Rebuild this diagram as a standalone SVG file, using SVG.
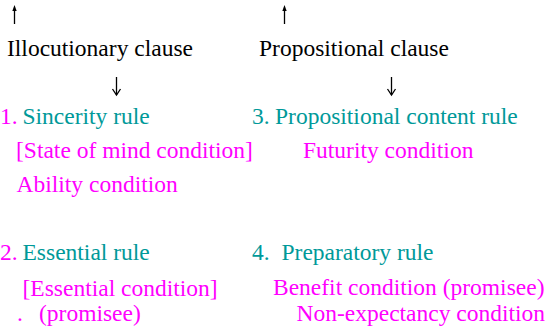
<svg xmlns="http://www.w3.org/2000/svg" width="551" height="331" viewBox="0 0 551 331">
<style>
.tx{font-family:"Liberation Serif",serif;font-size:23.5px}
.k{fill:#000}
.t{fill:#009999}
.m{fill:#FF00FF}
.ln{stroke:#000;stroke-width:1.3;fill:none}
.hd{fill:#000}
</style>
<rect width="551" height="331" fill="#fff"/>
<g id="connectors">
<line class="ln" x1="14.5" y1="24" x2="14.5" y2="9"/>
<polygon class="hd" points="14.5,5 12.3,11 16.7,11"/>
<line class="ln" x1="284.5" y1="24" x2="284.5" y2="9"/>
<polygon class="hd" points="284.5,5 282.3,11 286.7,11"/>
<line class="ln" x1="116.5" y1="77" x2="116.5" y2="95"/>
<polyline class="ln" points="112.5,89 116.5,95 120.5,89"/>
<line class="ln" x1="391.5" y1="77" x2="391.5" y2="95"/>
<polyline class="ln" points="387.5,89 391.5,95 395.5,89"/>
</g>
<g id="illocutionary" class="tx" font-family="Liberation Serif, serif">
<text class="k" x="7" y="56">Illocutionary clause</text>
</g>
<g id="propositional" class="tx" font-family="Liberation Serif, serif">
<text class="k" x="259" y="56">Propositional clause</text>
</g>
<g id="sincerity" class="tx" font-family="Liberation Serif, serif">
<text class="m" x="0" y="124">1.</text>
<text class="t" x="22.5" y="124">Sincerity rule</text>
<text class="m" x="16" y="158">[State of mind condition]</text>
<text class="m" x="16.5" y="192">Ability condition</text>
</g>
<g id="propcontent" class="tx" font-family="Liberation Serif, serif">
<text class="t" x="252" y="124">3.</text>
<text class="t" x="275" y="124">Propositional content rule</text>
<text class="m" x="303" y="158">Futurity condition</text>
</g>
<g id="essential" class="tx" font-family="Liberation Serif, serif">
<text class="m" x="0" y="260">2.</text>
<text class="t" x="22.5" y="260">Essential rule</text>
<text class="m" x="22.5" y="296">[Essential condition]</text>
<text class="m" x="17" y="321">.</text>
<text class="m" x="39" y="321">(promisee)</text>
</g>
<g id="preparatory" class="tx" font-family="Liberation Serif, serif">
<text class="t" x="252" y="260">4.</text>
<text class="t" x="281.5" y="260">Preparatory rule</text>
<text class="m" x="273" y="295">Benefit condition (promisee)</text>
<text class="m" x="296.5" y="321">Non-expectancy condition</text>
</g>
</svg>
